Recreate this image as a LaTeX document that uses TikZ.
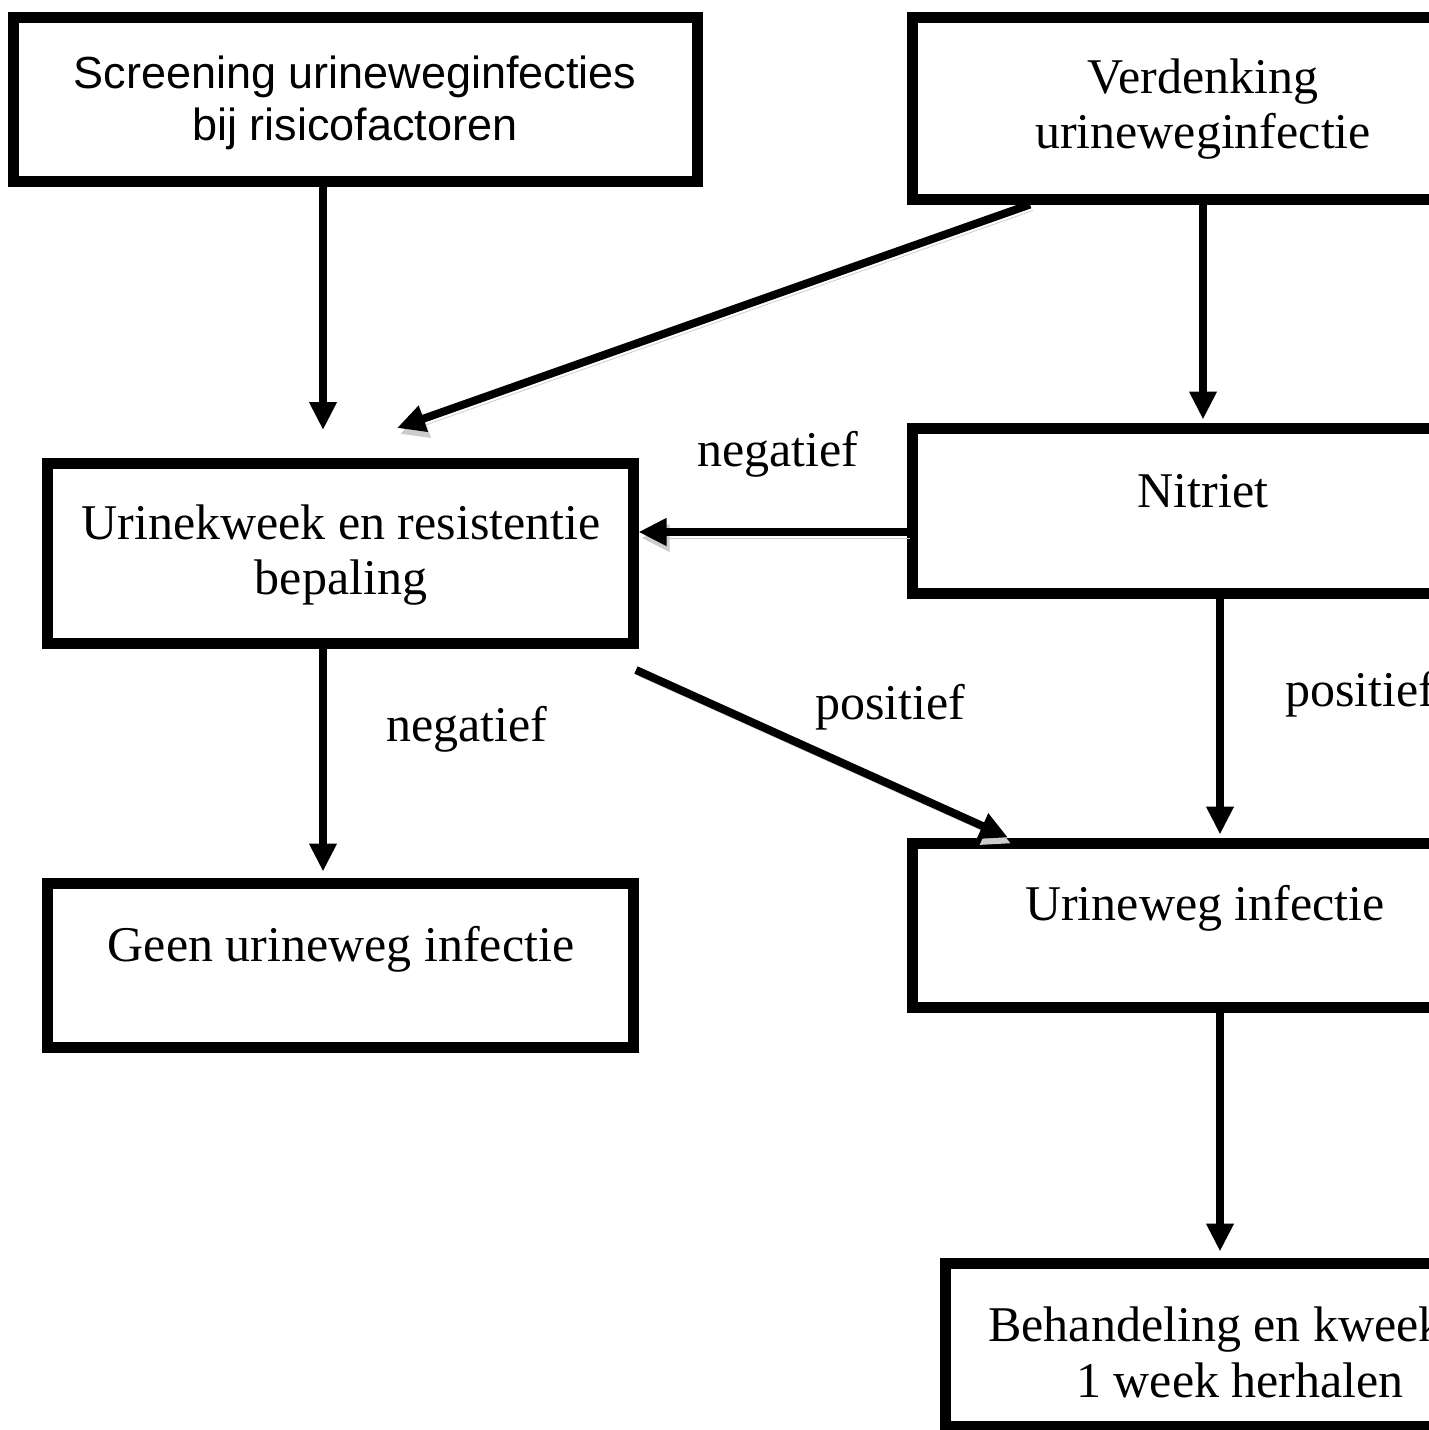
\documentclass[tikz,border=0pt]{standalone}
\usepackage{fontspec}
\setmainfont{Liberation Serif}
\newfontfamily\arialfont{Liberation Sans}
\usetikzlibrary{arrows.meta}

\tikzset{
  box/.style={draw, rectangle, line width=5.5pt, inner sep=0pt},
  txt/.style={align=center, font=\fontsize{25}{27.5}\selectfont, inner sep=0pt},
  arr/.style={line width=4pt, -{Triangle[length=14pt,width=13pt]}},
  shadowed/.style={preaction={draw=black!20, transform canvas={shift={(1.5pt,-3pt)}}}}
}

\begin{document}
\begin{tikzpicture}[x=0.5pt,y=-0.5pt]
\useasboundingbox (0,0) rectangle (1429,1430);
\clip (0,0) rectangle (1429,1430);

% boxes
\node [box, minimum width=342pt, minimum height=82pt] (scr) at (355,99) {};
\node [box, minimum width=291pt, minimum height=91pt] (ver) at (1203,108) {};
\node [box, minimum width=293pt, minimum height=90pt] (uri) at (340,553) {};
\node [box, minimum width=291pt, minimum height=82.5pt] (nit) at (1203,510.5) {};
\node [box, minimum width=293pt, minimum height=82pt] (geen) at (340,965) {};
\node [box, minimum width=291pt, minimum height=82pt] (inf) at (1203,925) {};
\node [box, minimum width=295pt, minimum height=81.5pt] (beh) at (1240,1344.5) {};

% texts
\node [txt, font=\arialfont\fontsize{22.5}{26}\selectfont] (scrtxt) at (355,103)
  {Screening urineweginfecties\\bij risicofactoren};
\node [txt] (vertxt) at (1203,109) {Verdenking\\urineweginfectie};
\node [txt] (uritxt) at (341,555) {Urinekweek en resistentie\\bepaling};
\node [txt] (nittxt) at (1203,491) {Nitriet};
\node [txt] (geentxt) at (341,949) {Geen urineweg infectie};
\node [txt] (inftxt) at (1205,908) {Urineweg infectie};
\node [txt, anchor=west] (behtop) at (988,1330) {Behandeling en kweek};
\node [txt] (behbot) at (1240,1380) {1 week herhalen};

% labels
\node [txt] (neg1) at (778,454) {negatief};
\node [txt] (neg2) at (467,729) {negatief};
\node [txt] (pos1) at (890,707) {positief};
\node [txt, anchor=west] (pos2) at (1285,694) {positief};

% connectors
\coordinate (c1) at (323,430);
\coordinate (s2) at (1030,0);
\coordinate (t2) at (397,428);
\coordinate (h4) at (0,532);
\coordinate (s6) at (636,670);
\coordinate (t6) at (1008,0);
\coordinate (c7) at (1220,0);

\draw [arr] (scr.south -| c1) -- (c1);
\draw [arr, shadowed] (ver.south -| s2) -- (t2);
\draw [arr, shorten >=1.5pt] (ver.south) -- (nit.north);
\draw [arr, shadowed] (nit.west |- h4) -- (uri.east |- h4);
\draw [arr, shorten >=3pt] (uri.south -| c1) -- (geen.north -| c1);
\draw [arr, shadowed] (s6) -- (inf.north -| t6);
\draw [arr, shorten >=1.5pt] (nit.south -| c7) -- (inf.north -| c7);
\draw [arr, shorten >=3pt] (inf.south -| c7) -- (beh.north -| c7);
\end{tikzpicture}
\end{document}
